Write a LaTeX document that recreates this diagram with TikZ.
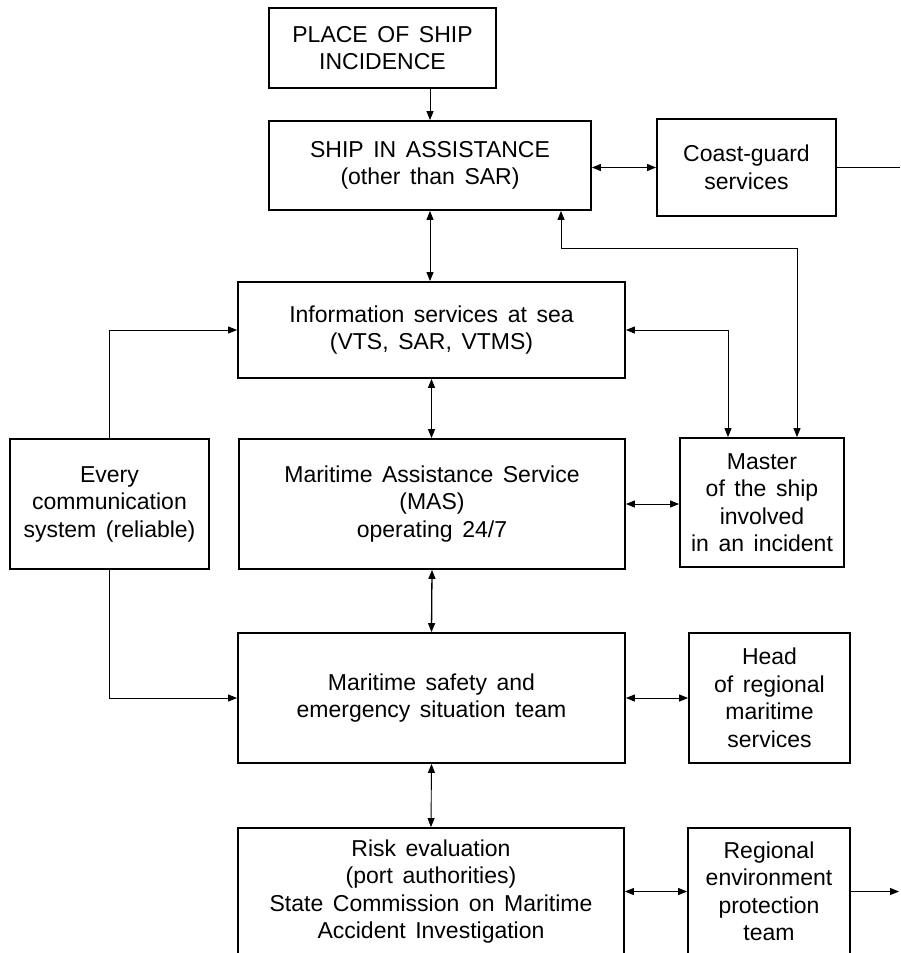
\documentclass[tikz,border=0pt]{standalone}
\usepackage{fontspec}
\setmainfont{Liberation Sans}[WordSpace=1.5]
\usetikzlibrary{arrows.meta}

\begin{document}
\begin{tikzpicture}[x=1pt, y=-1pt,
    >={Triangle[length=9pt,width=7pt]},
    box/.style={draw, line width=1.8pt, align=center, inner sep=2pt,
        font=\fontsize{23}{27.5}\selectfont},
    link/.style={line width=0.9pt}]
    \useasboundingbox (0,0) rectangle (900,953);
    \fill[white] (0,0) rectangle (900,953);
    \clip (0,0) rectangle (900,953);

    % Cajas
    \node[box, minimum width=227pt, minimum height=80pt] (place) at (382.5,48) {PLACE OF SHIP\\INCIDENCE};
    \node[box, minimum width=322pt, minimum height=89pt] (ship) at (430,165.5) {SHIP IN ASSISTANCE\\(other than SAR)};
    \node[box, minimum width=179pt, minimum height=97pt] (coast) at (746.5,167.5) {Coast-guard\\services};
    \node[box, minimum width=387pt, minimum height=96pt] (info) at (431.5,330) {Information services at sea\\(VTS, SAR, VTMS)};
    \node[box, minimum width=199pt, minimum height=130pt] (every) at (109.5,504) {Every\\communication\\system (reliable)};
    \node[box, minimum width=386pt, minimum height=130pt] (mas) at (432,504) {Maritime Assistance Service\\(MAS)\\operating 24/7};
    \node[box, minimum width=164pt, minimum height=129pt] (master) at (762,502.5) {Master\\of the ship\\involved\\in an incident};
    \node[box, minimum width=387pt, minimum height=130pt] (safety) at (431.5,698) {Maritime safety and\\emergency situation team};
    \node[box, minimum width=161pt, minimum height=130pt] (head) at (769.5,698) {Head\\of regional\\maritime\\services};
    \node[box, minimum width=386pt, minimum height=127pt] (risk) at (431,891.5) {Risk evaluation\\(port authorities)\\State Commission on Maritime\\Accident Investigation};
    \node[box, minimum width=162pt, minimum height=127pt] (regional) at (769,891.5) {Regional\\environment\\protection\\team};
    \coordinate (cgEnd) at (900,167.5);
    \coordinate (regEnd) at (899,891.5);

    % Eje central
    \draw[link, ->] (place.south -| ship.north) -- (ship.north);
    \draw[link, <->] (ship.south) -- (ship.south |- info.north);
    \draw[link, <->] (info.south) -- (info.south |- mas.north);
    \draw[link, <->, line width=1.3pt] (mas.south) -- (safety.north);
    \draw[link, <->] (safety.south) -- (risk.north);

    % Enlaces laterales
    \draw[link, <->] (ship.east |- coast.west) -- (coast.west);
    \draw[link] (coast.east) -- (cgEnd);
    \draw[link, <->] (mas.east) -- (mas.east -| master.west);
    \draw[link, <->] (safety.east) -- (head.west);
    \draw[link, <->] (risk.east) -- (regional.west);
    \draw[link, ->] (regional.east) -- (regEnd);

    % Capitan del buque
    \draw[link, <->] ([xshift=131pt]ship.south) -- ++(0,38) -| ([xshift=35pt]master.north);
    \draw[link, <->] (info.east) -| ([xshift=-34pt]master.north);

    % Sistema de comunicacion
    \draw[link, ->] (every.north) |- (info.west);
    \draw[link, ->] (every.south) |- (safety.west);
\end{tikzpicture}
\end{document}
